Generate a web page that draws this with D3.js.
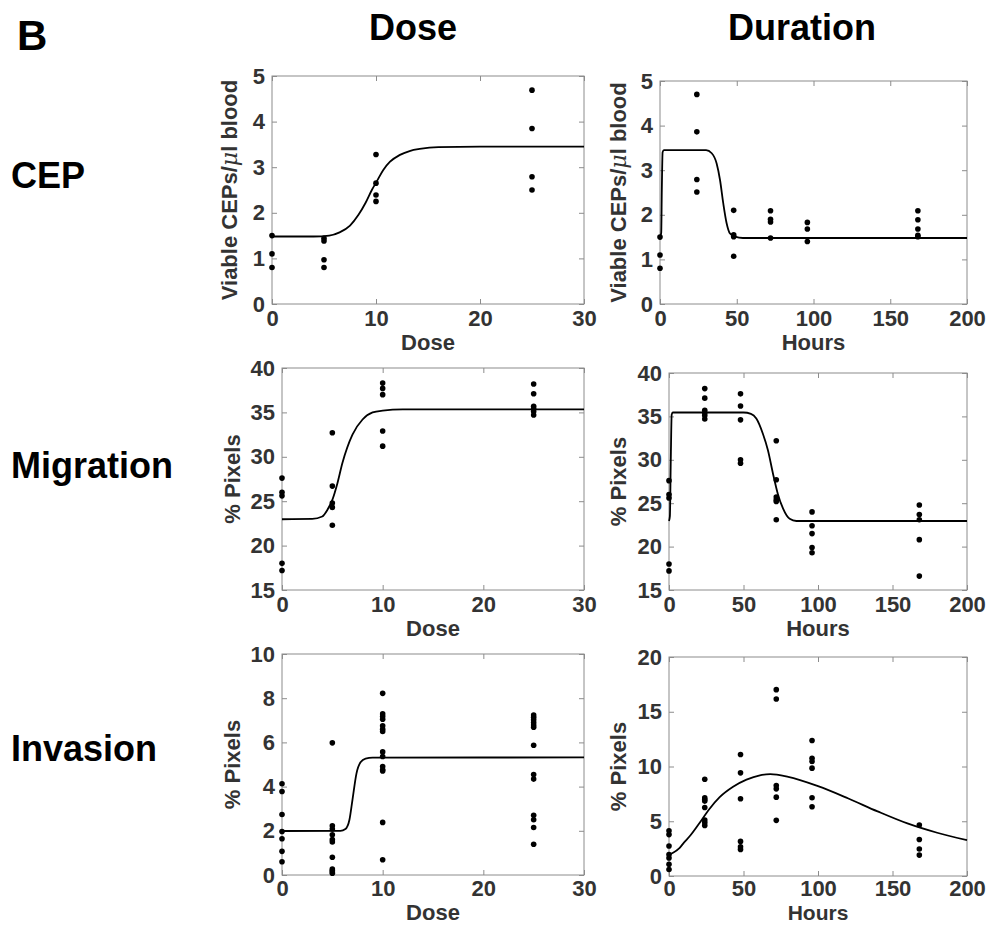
<!DOCTYPE html>
<html>
<head>
<meta charset="utf-8">
<script src="https://cdn.jsdelivr.net/npm/d3@7"></script>
<style>
html,body{margin:0;padding:0;background:#fff;}
svg{display:block;}
</style>
</head>
<body>
<svg id="chart" width="986" height="925"></svg>
<script>
// ---------------- DATA ----------------
const columnTitles = ["Dose", "Duration"];
const rowTitles = ["CEP", "Migration", "Invasion"];
const panelLetter = "B";

const doseTicks = [0, 10, 20, 30];
const hourTicks = [0, 50, 100, 150, 200];
const cepTicks = [0, 1, 2, 3, 4, 5];
const migTicks = [15, 20, 25, 30, 35, 40];
const invDoseTicks = [0, 2, 4, 6, 8, 10];
const invHourTicks = [0, 5, 10, 15, 20];

// CEP vs dose: [dose, value]
const cepDosePoints = [
  [0,1.50],[0,1.10],[0,0.80],
  [5,1.44],[5,1.38],[5,0.97],[5,0.80],
  [10,3.28],[10,2.65],[10,2.39],[10,2.25],
  [25,4.69],[25,3.85],[25,2.79],[25,2.50]
];
const cepDoseCurve = [
  [0,1.48],[4,1.48],[5.5,1.50],[6.5,1.57],[7.5,1.72],[8.3,1.95],[9,2.22],[9.6,2.50],
  [10.1,2.70],[10.7,2.94],[11.35,3.12],[12.3,3.27],[13.3,3.36],[14.2,3.40],[16,3.44],[20,3.45],[30,3.45]
];
// CEP vs hours
const cepHourPoints = [
  [0,1.50],[0,1.10],[0,0.80],
  [24,4.70],[24,3.86],[24,2.79],[24,2.51],
  [48,2.10],[48,1.55],[48,1.51],[48,1.07],
  [72,2.09],[72,1.90],[72,1.84],[72,1.48],
  [96,1.83],[96,1.68],[96,1.40],
  [168,2.09],[168,1.89],[168,1.68],[168,1.54],[168,1.51]
];
const cepHourCurve = [
  [0,1.48],[0.8,1.6],[1.2,2.6],[1.7,3.40],[2.5,3.45],[30,3.45],[33.7,3.38],[36.9,3.15],
  [39.1,2.78],[41.2,2.26],[43.4,1.81],[45.6,1.58],[48.9,1.51],[54,1.48],[200,1.48]
];
// Migration vs dose
const migDosePoints = [
  [0,27.6],[0,26.0],[0,25.6],[0,18.0],[0,17.2],
  [5,32.7],[5,26.7],[5,24.8],[5,24.3],[5,22.3],
  [10,38.3],[10,37.7],[10,37.0],[10,32.9],[10,31.2],
  [25,38.2],[25,37.1],[25,35.7],[25,35.4],[25,35.1],[25,34.7]
];
const migDoseCurve = [
  [0,22.97],[3,23.0],[4,23.27],[4.5,24.0],[5,25.15],[5.5,27.0],[6,29.3],[7,32.5],[8,34.2],
  [9,35.0],[10,35.2],[12,35.33],[30,35.35]
];
// Migration vs hours
const migHourPoints = [
  [0,27.6],[0,26.0],[0,25.6],[0,18.0],[0,17.2],
  [24,38.2],[24,37.1],[24,35.7],[24,35.4],[24,35.1],[24,34.7],
  [48,37.6],[48,36.2],[48,34.6],[48,30.0],[48,29.6],
  [72,32.2],[72,27.7],[72,25.7],[72,25.4],[72,25.2],[72,23.1],
  [96,24.0],[96,22.4],[96,21.5],[96,19.9],[96,19.3],
  [168,24.8],[168,23.7],[168,23.1],[168,20.8],[168,16.6]
];
const migHourCurve = [
  [0,22.95],[0.6,23.5],[1.2,30],[1.8,35.2],[2.5,35.45],[50,35.45],[55,35.3],[58.6,34.75],
  [63,33.0],[66.4,31.1],[69.8,28.4],[73,26.1],[76.5,24.4],[81,23.2],[85.5,22.95],[200,22.95]
];
// Invasion vs dose
const invDosePoints = [
  [0,4.13],[0,3.78],[0,2.74],[0,1.97],[0,1.64],[0,1.07],[0,0.60],
  [5,5.98],[5,2.23],[5,2.08],[5,1.82],[5,1.60],[5,1.49],[5,0.80],[5,0.27],[5,0.20],[5,0.14],[5,0.08],
  [10,8.22],[10,7.29],[10,7.17],[10,7.05],[10,6.75],[10,6.60],[10,6.49],[10,5.57],[10,5.36],
  [10,4.91],[10,4.76],[10,4.71],[10,2.38],[10,0.69],
  [25,7.24],[25,7.14],[25,7.02],[25,6.90],[25,6.79],[25,6.69],[25,5.87],[25,4.55],[25,4.34],
  [25,2.70],[25,2.50],[25,2.15],[25,1.39]
];
const invDoseCurve = [
  [0,1.99],[5.8,2.0],[6.3,2.08],[6.7,2.5],[7,3.4],[7.4,4.6],[7.8,5.1],[8.3,5.27],[9,5.31],[30,5.32]
];
// Invasion vs hours
const invHourPoints = [
  [0,4.13],[0,3.78],[0,2.74],[0,1.97],[0,1.64],[0,1.07],[0,0.60],
  [24,8.84],[24,7.14],[24,6.99],[24,6.84],[24,6.26],[24,5.11],[24,4.89],[24,4.62],
  [48,11.09],[48,9.42],[48,7.05],[48,3.16],[48,2.67],[48,2.43],
  [72,17.02],[72,16.17],[72,8.27],[72,7.96],[72,7.20],[72,5.08],
  [96,12.37],[96,10.76],[96,10.46],[96,9.85],[96,7.14],[96,6.32],
  [168,4.65],[168,3.34],[168,2.46],[168,1.91]
];
const invHourCurve = [
  [0,1.95],[3,2.15],[7,2.55],[10,3.05],[14,3.65],[20,4.75],[27,6.1],[34,7.2],[43,8.15],
  [52,8.8],[61,9.2],[68,9.3],[80,9.05],[100,8.2],[120,7.1],[140,5.9],[160,4.8],[180,3.95],[200,3.28]
];

// ---------------- LAYOUT ----------------
const FONT = "'Liberation Sans', Arial, Helvetica, sans-serif";
const TXT = "#333333";
const AXC = "#8c8c8c";

const panels = [
  {box:[272,584,76,304], xd:[0,30], xt:doseTicks, yd:[0,5], yt:cepTicks, xl:"Dose", xlOff:46, xlFs:22, tp:6, yl:"cep", ylOff:35, pts:cepDosePoints, crv:cepDoseCurve},
  {box:[660,967,81,304], xd:[0,200], xt:hourTicks, yd:[0,5], yt:cepTicks, xl:"Hours", xlOff:46, xlFs:22, tp:6, yl:"cep", ylOff:34, pts:cepHourPoints, crv:cepHourCurve},
  {box:[282,584,368,590], xd:[0,30], xt:doseTicks, yd:[15,40], yt:migTicks, xl:"Dose", xlOff:46, xlFs:22, tp:6, yl:"% Pixels", ylOff:42, pts:migDosePoints, crv:migDoseCurve},
  {box:[669,967,373,590], xd:[0,200], xt:hourTicks, yd:[15,40], yt:migTicks, xl:"Hours", xlOff:46, xlFs:22, tp:6, yl:"% Pixels", ylOff:43, pts:migHourPoints, crv:migHourCurve},
  {box:[282,584,654,875], xd:[0,30], xt:doseTicks, yd:[0,10], yt:invDoseTicks, xl:"Dose", xlOff:45, xlFs:22, tp:5, yl:"% Pixels", ylOff:42, pts:invDosePoints, crv:invDoseCurve},
  {box:[669,967,657,876], xd:[0,200], xt:hourTicks, yd:[0,20], yt:invHourTicks, xl:"Hours", xlOff:44, xlFs:21, tp:4, yl:"% Pixels", ylOff:43, pts:invHourPoints, crv:invHourCurve}
];

const svg = d3.select("#chart");

// Titles
svg.append("text").attr("x",17).attr("y",50).attr("font-family",FONT).attr("font-weight","bold")
  .attr("font-size",42).attr("fill","#000").text(panelLetter);
const colX = [413, 802];
columnTitles.forEach((t,i)=>{
  svg.append("text").attr("x",colX[i]).attr("y",40).attr("text-anchor","middle")
    .attr("font-family",FONT).attr("font-weight","bold").attr("font-size",36).attr("fill","#000").text(t);
});
const rowY = [188, 478, 761];
rowTitles.forEach((t,i)=>{
  svg.append("text").attr("x",11).attr("y",rowY[i])
    .attr("font-family",FONT).attr("font-weight","bold").attr("font-size",36).attr("fill","#000").text(t);
});

panels.forEach(p=>{
  const [L,R,T,B] = p.box;
  const x = d3.scaleLinear().domain(p.xd).range([L,R]);
  const y = d3.scaleLinear().domain(p.yd).range([B,T]);
  const g = svg.append("g");

  const styleAxis = sel => {
    sel.select(".domain").remove();
    sel.selectAll(".tick line").attr("stroke",AXC).attr("stroke-width",1);
    sel.selectAll(".tick text").attr("fill",TXT).attr("font-family",FONT)
      .attr("font-weight","bold").attr("font-size",22);
  };
  g.append("g").attr("transform",`translate(0,${B})`)
    .call(d3.axisBottom(x).tickValues(p.xt).tickSizeInner(-5).tickSizeOuter(0).tickPadding(p.tp).tickFormat(d3.format("d")))
    .call(styleAxis);
  g.append("g").attr("transform",`translate(0,${T})`)
    .call(d3.axisTop(x).tickValues(p.xt).tickSizeInner(-5).tickSizeOuter(0).tickFormat(""))
    .call(styleAxis);
  g.append("g").attr("transform",`translate(${L},0)`)
    .call(d3.axisLeft(y).tickValues(p.yt).tickSizeInner(-5).tickSizeOuter(0).tickPadding(7).tickFormat(d3.format("d")))
    .call(styleAxis);
  g.append("g").attr("transform",`translate(${R},0)`)
    .call(d3.axisRight(y).tickValues(p.yt).tickSizeInner(-5).tickSizeOuter(0).tickFormat(""))
    .call(styleAxis);

  g.append("rect").attr("x",L).attr("y",T).attr("width",R-L).attr("height",B-T)
    .attr("fill","none").attr("stroke",AXC).attr("stroke-width",1);

  // axis labels
  g.append("text").attr("x",(L+R)/2).attr("y",B+p.xlOff).attr("text-anchor","middle")
    .attr("font-family",FONT).attr("font-weight","bold").attr("font-size",p.xlFs).attr("fill",TXT).text(p.xl);

  const yl = g.append("text")
    .attr("transform",`translate(${L-p.ylOff},${(T+B)/2}) rotate(-90)`)
    .attr("text-anchor","middle").attr("font-family",FONT).attr("font-weight","bold")
    .attr("font-size",22).attr("fill",TXT);
  if (p.yl === "cep") {
    yl.append("tspan").text("Viable CEPs/");
    yl.append("tspan").attr("font-family","'DejaVu Serif', serif").attr("font-style","italic")
      .attr("font-weight","normal").text("\u03bc");
    yl.append("tspan").text("l blood");
  } else {
    yl.text(p.yl);
  }

  // curve
  const line = d3.line().x(d=>x(d[0])).y(d=>y(d[1])).curve(d3.curveMonotoneX);
  g.append("path").datum(p.crv).attr("d",line).attr("fill","none")
    .attr("stroke","#000").attr("stroke-width",1.8);

  // dots
  g.selectAll("circle.pt").data(p.pts).enter().append("circle")
    .attr("class","pt").attr("cx",d=>x(d[0])).attr("cy",d=>y(d[1])).attr("r",2.8).attr("fill","#000");
});
</script>
</body>
</html>
